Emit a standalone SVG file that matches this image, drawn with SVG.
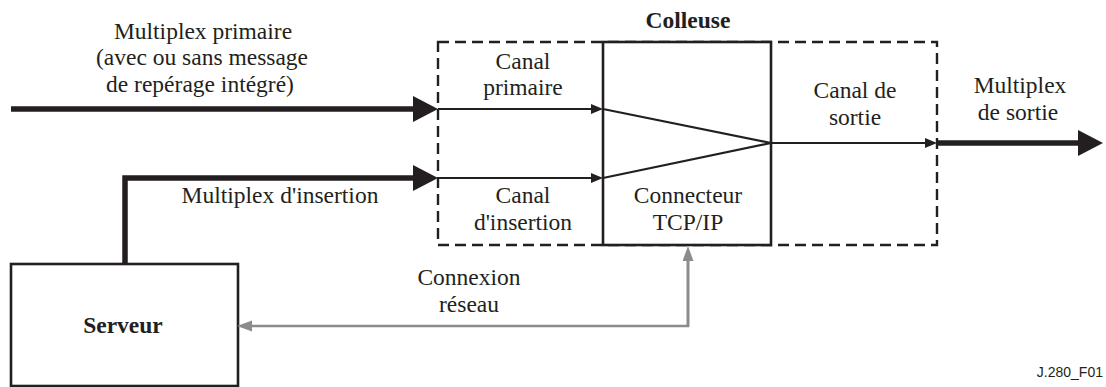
<svg xmlns="http://www.w3.org/2000/svg" width="1106" height="387" viewBox="0 0 1106 387">
  <style>
    .t { font-family: "Liberation Serif", "Times New Roman", serif; font-size: 23.5px; fill: #231f20; text-anchor: middle; }
    .b { font-weight: bold; }
    .ref { font-family: "Liberation Sans", Arial, sans-serif; font-size: 14px; fill: #231f20; text-anchor: end; }
    .thick { fill: none; stroke: #231f20; stroke-width: 5.5; }
    .thin { fill: none; stroke: #231f20; stroke-width: 2.2; }
    .net { fill: none; stroke: #8c8c8c; stroke-width: 2.6; }
    .box { fill: #fff; stroke: #231f20; stroke-width: 2.6; }
    .dash { fill: none; stroke: #231f20; stroke-width: 2.4; stroke-dasharray: 11 6; }
  </style>
  <defs>
    <marker id="bigHead" markerUnits="userSpaceOnUse" markerWidth="26" markerHeight="28" refX="15" refY="13" orient="auto">
      <path d="M0,0 L25,13 L0,26 z" fill="#231f20"/>
    </marker>
    <marker id="smallHead" markerUnits="userSpaceOnUse" markerWidth="14" markerHeight="12" refX="7" refY="5" orient="auto">
      <path d="M0,0 L12,5 L0,10 z" fill="#231f20"/>
    </marker>
    <marker id="netHead" markerUnits="userSpaceOnUse" markerWidth="16" markerHeight="12" refX="7" refY="5.5" orient="auto">
      <path d="M0,0 L15,5.5 L0,11 z" fill="#8c8c8c"/>
    </marker>
  </defs>

  <!-- inserter: dashed outline with the solid splicing core -->
  <g id="colleuse">
    <rect class="dash" x="438" y="42" width="499" height="203"/>
    <rect class="box" x="603" y="42" width="168" height="203"/>
    <text class="t b" x="688" y="28">Colleuse</text>
    <text class="t" x="523" y="69">Canal</text>
    <text class="t" x="523" y="95">primaire</text>
    <text class="t" x="523" y="203">Canal</text>
    <text class="t" x="523" y="230">d'insertion</text>
    <text class="t" x="688" y="203">Connecteur</text>
    <text class="t" x="688" y="230">TCP/IP</text>
    <text class="t" x="855" y="98">Canal de</text>
    <text class="t" x="855" y="125">sortie</text>
  </g>

  <!-- server -->
  <g id="serveur">
    <rect class="box" x="11" y="264" width="227" height="122"/>
    <text class="t b" x="123" y="333">Serveur</text>
  </g>

  <!-- streams and network link -->
  <g id="connectors">
    <path class="thick" d="M11,109 H428" marker-end="url(#bigHead)"/>
    <path class="thick" d="M125,264 V178 H428" marker-end="url(#bigHead)"/>
    <path class="thin" d="M438,109 H598" marker-end="url(#smallHead)"/>
    <path class="thin" d="M438,178 H598" marker-end="url(#smallHead)"/>
    <path class="thin" d="M603,109 L771,143 L603,178"/>
    <path class="thin" d="M771,143 H932" marker-end="url(#smallHead)"/>
    <path class="thick" d="M937,143 H1093" marker-end="url(#bigHead)"/>
    <path class="net" d="M688,254 V326 H245" marker-end="url(#netHead)"/>
    <path class="net" d="M688,326 V254" marker-end="url(#netHead)"/>
  </g>

  <!-- stream labels -->
  <g id="labels">
    <text class="t" x="203" y="39">Multiplex primaire</text>
    <text class="t" x="202" y="65">(avec ou sans message</text>
    <text class="t" x="200" y="92">de repérage intégré)</text>
    <text class="t" x="280" y="203">Multiplex d'insertion</text>
    <text class="t" x="1020" y="93">Multiplex</text>
    <text class="t" x="1018" y="120">de sortie</text>
    <text class="t" x="469" y="285">Connexion</text>
    <text class="t" x="469" y="312">réseau</text>
    <text class="ref" x="1103" y="377">J.280_F01</text>
  </g>
</svg>
